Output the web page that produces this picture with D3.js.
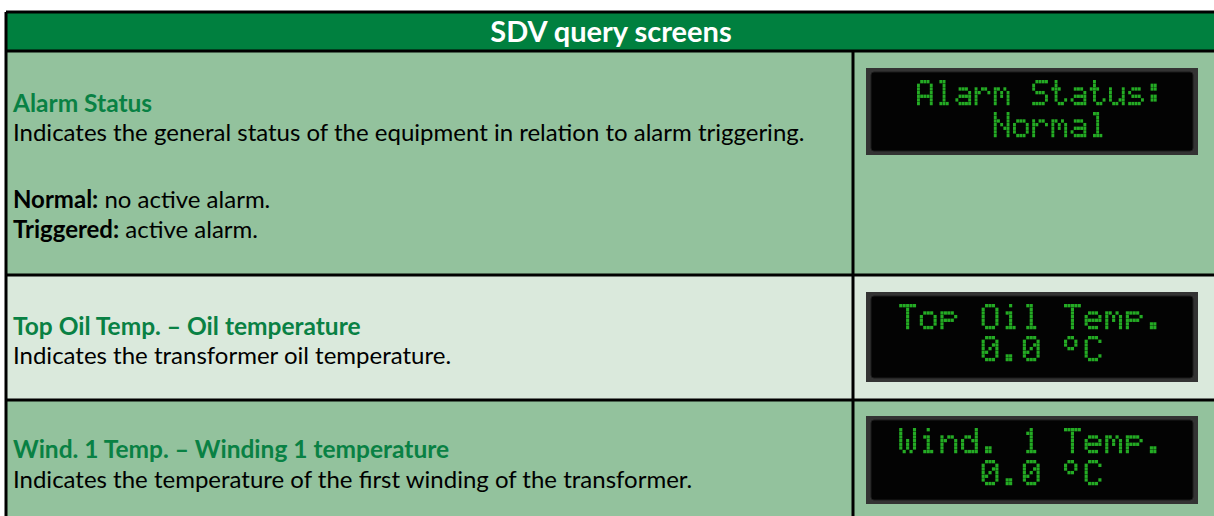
<!DOCTYPE html>
<html><head><meta charset="utf-8">
<script src="https://cdn.jsdelivr.net/npm/d3@7"></script>
<style>html,body{margin:0;padding:0;background:#fff;}svg{display:block;}</style>
</head><body>
<script>
// ---- data ----
const tableTitle = "SDV query screens";
const rowTitles = ["Alarm Status", "Top Oil Temp. \u2013 Oil temperature", "Wind. 1 Temp. \u2013 Winding 1 temperature"];
const rowDescriptions = [
  "Indicates the general status of the equipment in relation to alarm triggering.",
  "Indicates the transformer oil temperature.",
  "Indicates the temperature of the first winding of the transformer."
];
const noteLabels = ["Normal:", "Triggered:"];
const noteTexts = [" no active alarm.", " active alarm."];
const lcdLine1 = ["  Alarm Status:", " Top Oil Temp.", " Wind. 1 Temp."];
const lcdLine2 = ["      Normal", "     0.0 \u00b0C", "     0.0 \u00b0C"];

// ---- 5x7 dot-matrix glyphs ----
const G = {
 "A":["01110","10001","10001","10001","11111","10001","10001"],
 "l":["01100","00100","00100","00100","00100","00100","01110"],
 "a":["00000","00000","01110","00001","01111","10001","01111"],
 "r":["00000","00000","10110","11001","10000","10000","10000"],
 "m":["00000","00000","11010","10101","10101","10001","10001"],
 "S":["01111","10000","10000","01110","00001","00001","11110"],
 "t":["01000","01000","11100","01000","01000","01001","00110"],
 "u":["00000","00000","10001","10001","10001","10011","01101"],
 "s":["00000","00000","01110","10000","01110","00001","11110"],
 ":":["00000","01100","01100","00000","01100","01100","00000"],
 "N":["10001","10001","11001","10101","10011","10001","10001"],
 "o":["00000","00000","01110","10001","10001","10001","01110"],
 "T":["11111","00100","00100","00100","00100","00100","00100"],
 "p":["00000","00000","11110","10001","11110","10000","10000"],
 "O":["01110","10001","10001","10001","10001","10001","01110"],
 "i":["00100","00000","01100","00100","00100","00100","01110"],
 "e":["00000","00000","01110","10001","11111","10000","01110"],
 ".":["00000","00000","00000","00000","00000","01100","01100"],
 "0":["01110","10001","10011","10101","11001","10001","01110"],
 "\u00b0":["01100","10010","10010","01100","00000","00000","00000"],
 "C":["01110","10001","10000","10000","10000","10001","01110"],
 "W":["10001","10001","10001","10101","10101","10101","01010"],
 "n":["00000","00000","10110","11001","10001","10001","10001"],
 "d":["00001","00001","01101","10011","10001","10001","01111"],
 "1":["00100","01100","00100","00100","00100","00100","01110"],
 " ":["00000","00000","00000","00000","00000","00000","00000"]
};

// ---- layout ----
const W = 1214, H = 516;
const tLeft = 6, tTop = 12, headerH = 39, colX = 853;
const rowBounds = [51, 275, 400, 530];
const rowFill = ["#93c29d", "#dae9dc", "#93c29d"];
const svg = d3.select("body").append("svg").attr("width", W).attr("height", H);

const rowIdx = d3.range(rowTitles.length);
const yTop = d3.scaleOrdinal().domain(rowIdx).range(rowBounds.slice(0, 3));
const yBot = d3.scaleOrdinal().domain(rowIdx).range(rowBounds.slice(1));

// header
svg.append("rect").attr("x", tLeft).attr("y", tTop).attr("width", W - tLeft + 5).attr("height", headerH).attr("fill", "#00803f");
svg.append("text").attr("x", 611).attr("y", 42)
  .attr("text-anchor", "middle").attr("fill", "#fff")
  .style("font", "bold 29px Lato").text(tableTitle);

// rows
const rows = svg.selectAll("g.row").data(rowIdx).join("g").attr("class", "row");
rows.append("rect").attr("x", tLeft).attr("y", d => yTop(d)).attr("width", W - tLeft + 5)
  .attr("height", d => yBot(d) - yTop(d)).attr("fill", d => rowFill[d]);

const titleBase = [112, 335, 458];
const descBase = [141, 364, 488];
rows.append("text").attr("x", 13).attr("y", d => titleBase[d])
  .attr("fill", "#098144").style("font", "bold 24.5px Lato").text(d => rowTitles[d]);
rows.append("text").attr("x", 13).attr("y", d => descBase[d])
  .attr("fill", "#000").style("font", "24px Lato").text(d => rowDescriptions[d]);

const noteBase = [208, 238];
noteLabels.forEach((lab, i) => {
  const t = svg.append("text").attr("x", 13).attr("y", noteBase[i]).attr("fill", "#000").style("font", "24px Lato");
  t.append("tspan").style("font-weight", "bold").text(lab);
  t.append("tspan").text(noteTexts[i]);
});

// grid lines
const lineG = svg.append("g").attr("stroke", "#000").attr("stroke-width", 3);
lineG.append("line").attr("x1", tLeft).attr("x2", W + 5).attr("y1", tTop).attr("y2", tTop);
lineG.append("line").attr("x1", tLeft).attr("x2", tLeft).attr("y1", tTop).attr("y2", H + 5);
lineG.selectAll("line.h").data(rowBounds.slice(0, 3)).join("line").attr("class", "h")
  .attr("x1", tLeft).attr("x2", W + 5).attr("y1", d => d).attr("y2", d => d);
lineG.append("line").attr("x1", colX).attr("x2", colX).attr("y1", 51).attr("y2", H + 5);

// LCD panels
const lcdTop = [68, 292, 416], lcdH = [87, 90, 88];
const lcdX = 866, lcdW = 332;
const lcdPitch = [19.2, 20.6, 20.6];
const rowP = 3.65;
rowIdx.forEach(i => {
  const g = svg.append("g");
  g.append("rect").attr("x", lcdX).attr("y", lcdTop[i]).attr("width", lcdW).attr("height", lcdH[i]).attr("fill", "#333333");
  g.append("rect").attr("x", lcdX + 5).attr("y", lcdTop[i] + 4).attr("width", lcdW - 10).attr("height", lcdH[i] - 8)
    .attr("rx", 3).attr("fill", "#030303").attr("stroke", "#1c1c1c").attr("stroke-width", 1);
  const pitch = lcdPitch[i], dp = pitch / 6;
  const x0 = 878.6;
  [lcdLine1[i], lcdLine2[i]].forEach((str, li) => {
    const y0 = lcdTop[i] + 12 + li * 32;
    const dots = [];
    [...str].forEach((ch, ci) => {
      const gl = G[ch] || G[" "];
      gl.forEach((rowS, r) => {
        [...rowS].forEach((b, c) => {
          if (b === "1") dots.push({x: x0 + ci * pitch + c * dp, y: y0 + r * rowP});
        });
      });
    });
    g.selectAll(null).data(dots).join("rect")
      .attr("x", d => d.x).attr("y", d => d.y).attr("width", dp - 0.3).attr("height", rowP - 0.3)
      .attr("fill", "#24ab24");
  });
});
</script>
</body></html>
